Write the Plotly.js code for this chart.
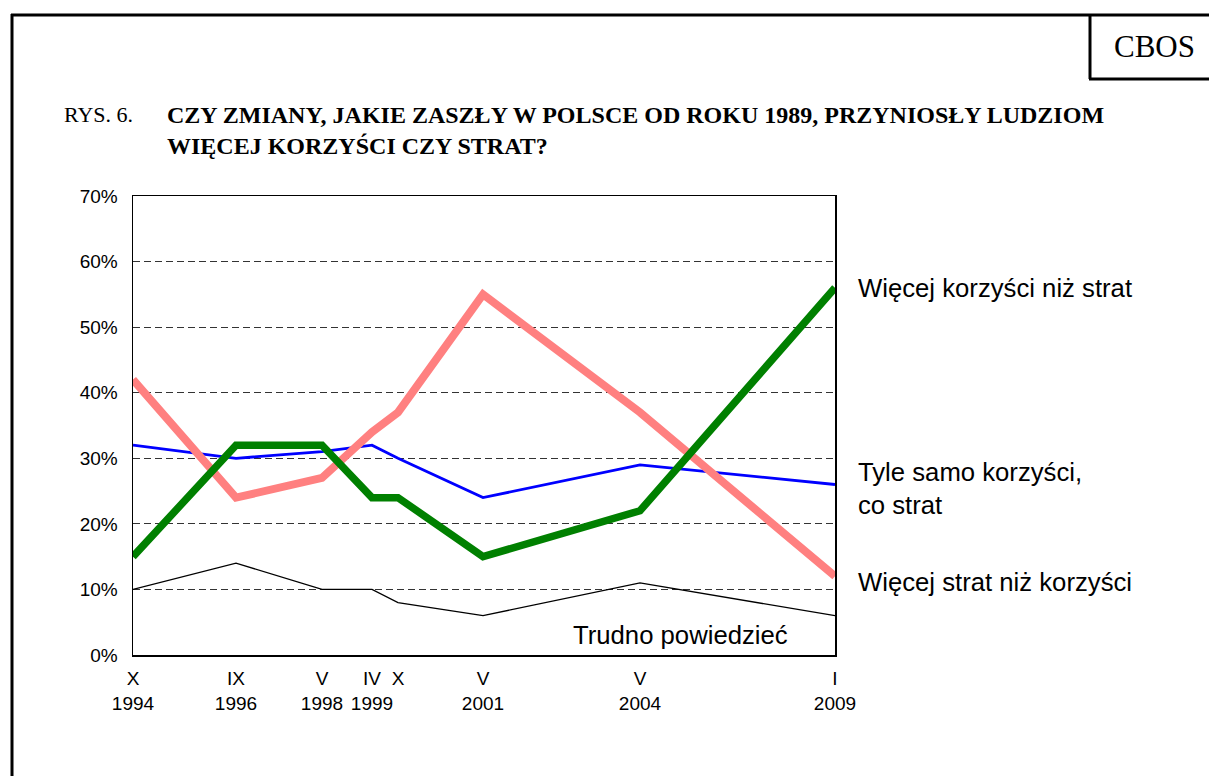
<!DOCTYPE html>
<html>
<head>
<meta charset="utf-8">
<script src="https://cdn.plot.ly/plotly-3.0.1.min.js"></script>
<style>
html,body{margin:0;padding:0;background:#fff;}
#chart{width:1209px;height:776px;}
</style>
</head>
<body>
<div id="chart"></div>
<script>
// Survey waves (position on the chart's time axis, as spaced in the original)
const wavePos   = [0, 103, 189, 239, 265, 350, 507, 702];
const waveMonth = ['X', 'IX', 'V', 'IV', 'X', 'V', 'V', 'I'];
const waveYear  = ['1994', '1996', '1998', '1999', '', '2001', '2004', '2009'];

// Series values (%)
const wiecejKorzysci = [15, 32, 32, 24, 24, 15, 22, 56];
const tyleSamo       = [32, 30, 31, 32, 30, 24, 29, 26];
const wiecejStrat    = [42, 24, 27, 34, 37, 55, 37, 12];
const trudno         = [10, 14, 10, 10, 8, 6, 11, 6];

const yTicks = [0, 10, 20, 30, 40, 50, 60, 70];

const tickText = waveMonth.map((m, i) => waveYear[i] ? m + '<br>' + waveYear[i] : m + '<br> ');

// pixel helpers for paper coordinates of decorations (plot area 133..835 x 196..655)
const L = 133, R = 835, T = 196, B = 655;
const px = x => (x - L) / (R - L);
const py = y => (B - y) / (B - T);

const traces = [
  {x: wavePos, y: trudno, mode: 'lines', line: {color: '#000000', width: 1.3}, name: 'Trudno powiedzieć'},
  {x: wavePos, y: tyleSamo, mode: 'lines', line: {color: '#0000FF', width: 2.8}, name: 'Tyle samo korzyści, co strat'},
  {x: wavePos, y: wiecejStrat, mode: 'lines', line: {color: '#FF8080', width: 8}, name: 'Więcej strat niż korzyści'},
  {x: wavePos, y: wiecejKorzysci, mode: 'lines', line: {color: '#008000', width: 7.5}, name: 'Więcej korzyści niż strat'}
];

const sans = 'Arial, "Liberation Sans", sans-serif';
const serif = '"Times New Roman", "Liberation Serif", serif';

const layout = {
  width: 1209, height: 776,
  margin: {l: L, r: 1209 - R, t: T, b: 776 - B, pad: 0},
  paper_bgcolor: '#ffffff', plot_bgcolor: '#ffffff',
  showlegend: false,
  xaxis: {
    range: [wavePos[0], wavePos[wavePos.length - 1]],
    tickvals: wavePos, ticktext: tickText, tickangle: 0,
    showgrid: false, zeroline: false,
    showline: true, mirror: true, linecolor: '#000', linewidth: 1.5,
    ticks: '', ticklabelstandoff: 6,
    tickfont: {family: sans, size: 19, color: '#000'}
  },
  yaxis: {
    range: [0, 70],
    tickvals: yTicks, ticktext: yTicks.map(v => v + '%'),
    showgrid: true, gridcolor: '#333', gridwidth: 1, griddash: '7px,4px',
    zeroline: false,
    showline: true, mirror: true, linecolor: '#000', linewidth: 1.5,
    ticks: '', ticklabelstandoff: 10,
    tickfont: {family: sans, size: 19, color: '#000'}
  },
  annotations: [
    {xref: 'paper', yref: 'paper', x: px(62), y: py(115), xanchor: 'left', yanchor: 'middle',
     text: 'RYS. 6.', showarrow: false, font: {family: serif, size: 22, color: '#000'}},
    {xref: 'paper', yref: 'paper', x: px(165), y: py(130), xanchor: 'left', yanchor: 'middle', align: 'left',
     text: '<b>CZY ZMIANY, JAKIE ZASZŁY W POLSCE OD ROKU 1989, PRZYNIOSŁY LUDZIOM<br>WIĘCEJ KORZYŚCI CZY STRAT?</b>',
     showarrow: false, font: {family: serif, size: 24, color: '#000'}},
    {xref: 'paper', yref: 'paper', x: px(1154), y: py(46), xanchor: 'center', yanchor: 'middle',
     text: 'CBOS', showarrow: false, font: {family: serif, size: 31, color: '#000'}},
    {xref: 'paper', yref: 'paper', x: px(856), y: py(288), xanchor: 'left', yanchor: 'middle',
     text: 'Więcej korzyści niż strat', showarrow: false, font: {family: sans, size: 25.7, color: '#000'}},
    {xref: 'paper', yref: 'paper', x: px(856), y: py(488), xanchor: 'left', yanchor: 'middle', align: 'left',
     text: 'Tyle samo korzyści,<br>co strat', showarrow: false, font: {family: sans, size: 25.7, color: '#000'}},
    {xref: 'paper', yref: 'paper', x: px(856), y: py(582), xanchor: 'left', yanchor: 'middle',
     text: 'Więcej strat niż korzyści', showarrow: false, font: {family: sans, size: 25.7, color: '#000'}},
    {xref: 'paper', yref: 'paper', x: px(790), y: py(635), xanchor: 'right', yanchor: 'middle',
     text: 'Trudno powiedzieć', showarrow: false, font: {family: sans, size: 25.7, color: '#000'}}
  ],
  shapes: [
    {type: 'line', xref: 'paper', yref: 'paper', x0: px(12), x1: px(12), y0: py(14), y1: py(790), line: {color: '#000', width: 3}},
    {type: 'line', xref: 'paper', yref: 'paper', x0: px(11), x1: px(1220), y0: py(15), y1: py(15), line: {color: '#000', width: 3}},
    {type: 'line', xref: 'paper', yref: 'paper', x0: px(1090), x1: px(1090), y0: py(15), y1: py(79), line: {color: '#000', width: 3}},
    {type: 'line', xref: 'paper', yref: 'paper', x0: px(1089), x1: px(1220), y0: py(79), y1: py(79), line: {color: '#000', width: 3}}
  ]
};

Plotly.newPlot('chart', traces, layout, {staticPlot: true, displayModeBar: false});
</script>
</body>
</html>
